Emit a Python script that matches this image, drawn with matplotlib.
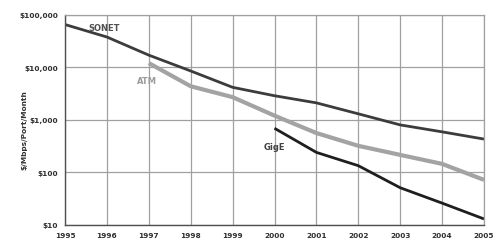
import numpy as np
import matplotlib
matplotlib.use("Agg")
import matplotlib.pyplot as plt
from matplotlib.ticker import FixedLocator

plt.rcParams['font.family'] = ['Liberation Sans Narrow', 'DejaVu Sans']

# ================= DATOS =================
years = [1995, 1996, 1997, 1998, 1999, 2000, 2001, 2002, 2003, 2004, 2005]
sonet = [65000, 37600, 17000, 8500, 4150, 2870, 2100, 1300, 800, 590, 430]

atm_years = [1997, 1998, 1999, 2000, 2001, 2002, 2003, 2004, 2005]
atm = [12000, 4350, 2700, 1200, 560, 320, 215, 145, 72]

gige_years = [2000, 2001, 2002, 2003, 2004, 2005]
gige = [690, 240, 134, 51, 26, 13]

y_ticks = [10, 100, 1000, 10000, 100000]
y_labels = ["$10", "$100", "$1,000", "$10,000", "$100,000"]

# ================= GRAFICA =================
fig = plt.figure(figsize=(5.0, 2.53), dpi=100)
ax = fig.add_axes([0.13, 0.107, 0.838, 0.831])

ax.set_yscale('log')
ax.set_xlim(1995, 2005)
ax.set_ylim(10, 100000)

ax.plot(years, sonet, color='#3c3c3c', linewidth=2.0, solid_capstyle='butt')
ax.plot(atm_years, atm, color='#a3a3a3', linewidth=3.0, solid_capstyle='butt')
ax.plot(gige_years, gige, color='#1e1e1e', linewidth=2.0, solid_capstyle='butt')

# etiquetas de series
ax.text(1995.55, 58000, "SONET", fontsize=6, fontweight='bold', color='#505050', va='center')
ax.text(1996.72, 5700, "ATM", fontsize=6, fontweight='bold', color='#9a9a9a', va='center')
ax.text(1999.73, 316, "GigE", fontsize=6, fontweight='bold', color='#404040', va='center')

# ejes y cuadricula
ax.yaxis.set_major_locator(FixedLocator(y_ticks))
ax.set_yticklabels(y_labels)
ax.yaxis.set_minor_locator(FixedLocator([]))
ax.set_xticks(years)
ax.set_xticklabels([str(y) for y in years])
ax.grid(True, which='major', color='#a0a0a0', linewidth=0.9)
ax.tick_params(axis='both', length=0, labelsize=5.3, colors='#303030', pad=5)
for lbl in ax.get_xticklabels() + ax.get_yticklabels():
    lbl.set_fontweight('bold')

for side in ['top', 'right']:
    ax.spines[side].set_color('#a0a0a0')
    ax.spines[side].set_linewidth(0.9)
ax.spines['left'].set_color('#505050')
ax.spines['bottom'].set_color('#505050')
ax.spines['left'].set_linewidth(1.0)
ax.spines['bottom'].set_linewidth(1.0)

fig.text(0.048, 0.486, "$/Mbps/Port/Month", rotation=90, fontsize=5.3, fontweight='bold',
         color='#303030', ha='center', va='center')

fig.savefig("out.png", dpi=100)
